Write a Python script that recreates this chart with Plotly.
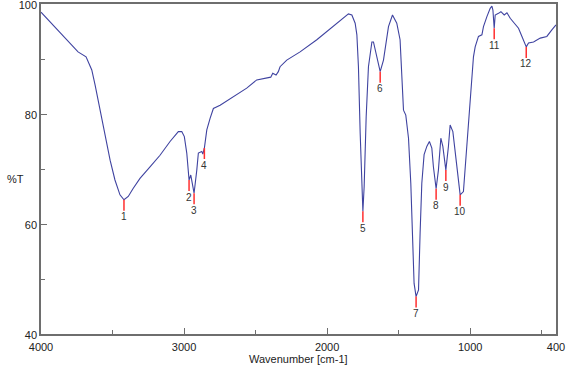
import plotly.graph_objects as go

# Spectrum trace (wavenumber cm-1, %T)
wavenumber = [4000, 3853, 3741, 3685, 3645, 3622, 3587, 3552, 3517, 3483, 3448, 3420, 3390, 3355,
              3308, 3238, 3168, 3098, 3040, 3016, 2998, 2981, 2970, 2965, 2953, 2939, 2930, 2911,
              2900, 2876, 2869, 2858, 2841, 2818, 2795, 2748, 2655, 2562, 2492, 2422, 2394, 2380,
              2357, 2341, 2329, 2282, 2189, 2072, 2002, 1909, 1851, 1827, 1804, 1792, 1781, 1769,
              1757, 1750, 1741, 1727, 1711, 1687, 1676, 1657, 1629, 1606, 1571, 1543, 1513, 1490,
              1478, 1466, 1450, 1431, 1415, 1401, 1392, 1378, 1361, 1350, 1338, 1322, 1303, 1285,
              1268, 1257, 1238, 1222, 1205, 1191, 1170, 1152, 1140, 1121, 1105, 1089, 1070, 1047,
              1030, 1012, 995, 977, 965, 942, 918, 907, 883, 860, 848, 841, 832, 825, 802, 785,
              762, 743, 720, 685, 662, 638, 608, 592, 557, 510, 464, 429, 400]
transmittance = [98.5, 94.4, 91.3, 90.4, 88.0, 85.3, 80.7, 75.9, 71.6, 68.0, 65.3, 64.4, 65.0, 66.5,
                 68.3, 70.4, 72.5, 75.0, 76.8, 76.8, 75.9, 72.9, 69.5, 68.0, 68.9, 66.5, 65.6, 69.8,
                 72.9, 73.2, 72.7, 73.8, 77.1, 79.2, 81.0, 81.6, 83.2, 84.7, 86.2, 86.5, 86.7, 87.4,
                 87.1, 87.7, 88.6, 89.8, 91.3, 93.5, 95.0, 97.1, 98.2, 98.0, 96.5, 94.4, 88.6, 76.6,
                 65.3, 62.3, 66.8, 79.5, 88.6, 93.1, 93.1, 91.0, 87.7, 89.8, 95.9, 98.0, 96.5, 93.5,
                 87.1, 80.7, 79.8, 75.6, 67.4, 58.3, 49.2, 46.8, 48.0, 58.3, 67.4, 72.6, 74.1, 75.0,
                 73.8, 70.4, 66.4, 69.8, 75.6, 74.1, 69.8, 74.1, 78.0, 76.8, 73.5, 69.2, 65.3, 65.9,
                 71.6, 77.7, 83.5, 90.4, 92.2, 94.1, 94.4, 95.9, 97.7, 99.2, 99.6, 98.9, 95.6, 98.0,
                 98.3, 98.6, 98.0, 98.4, 97.4, 96.2, 95.6, 94.1, 92.2, 92.9, 93.1, 93.8, 94.1, 95.3,
                 96.2]

# Picked peaks
peak_labels = ["1", "2", "3", "4", "5", "6", "7", "8", "9", "10", "11", "12"]
peak_wn = [3420, 2965, 2930, 2858, 1750, 1629, 1378, 1238, 1170, 1070, 832, 608]
peak_t = [64.4, 68.0, 65.6, 73.8, 62.3, 87.7, 46.8, 66.4, 69.8, 65.3, 95.6, 92.2]

x_tick_vals = [4000, 3000, 2000, 1000, 400]
x_tick_text = ["4000", "3000", "2000", "1000", "400"]
x_minor_vals = [3500, 2500, 1500, 500]
y_tick_vals = [40, 60, 80, 100]
y_minor_vals = [50, 70, 90]

FONT = "Liberation Sans, Arial, sans-serif"
AXIS_COLOR = "#6e6e6e"

fig = go.Figure()
fig.add_trace(go.Scatter(x=wavenumber, y=transmittance, mode="lines",
                         line=dict(color="#3f43a0", width=1.1), hoverinfo="skip",
                         showlegend=False))

for lab, wx, ty in zip(peak_labels, peak_wn, peak_t):
    fig.add_annotation(x=wx, y=ty, text=lab, showarrow=True, arrowhead=0,
                       arrowcolor="#ff3030", arrowwidth=1.5, ax=0, ay=17,
                       font=dict(family=FONT, size=10, color="#333333"),
                       borderpad=0)

fig.add_annotation(xref="paper", yref="paper", x=-0.05, y=0.47, text="%T",
                   showarrow=False, xanchor="center", yanchor="middle",
                   font=dict(family=FONT, size=11, color="#222222"))
fig.add_annotation(xref="paper", yref="paper", x=0.5, y=-0.052, text="Wavenumber [cm-1]",
                   showarrow=False, xanchor="center", yanchor="top",
                   font=dict(family=FONT, size=11, color="#222222"))

common_axis = dict(autorange=False, automargin=False, ticklabeloverflow="allow",
                   ticks="inside", ticklen=6, tickcolor=AXIS_COLOR, tickwidth=1,
                   showline=True, linecolor=AXIS_COLOR, linewidth=1.5, mirror=True,
                   showgrid=False, zeroline=False,
                   tickfont=dict(family=FONT, size=11, color="#222222"))

fig.update_xaxes(range=[4000, 400], tickmode="array", tickvals=x_tick_vals, ticktext=x_tick_text,
                 minor=dict(tickmode="array", tickvals=x_minor_vals, ticks="inside",
                            ticklen=4, tickcolor=AXIS_COLOR, showgrid=False),
                 ticklabelstandoff=2, **common_axis)
fig.update_yaxes(range=[40, 100], tickmode="array", tickvals=y_tick_vals,
                 minor=dict(tickmode="array", tickvals=y_minor_vals, ticks="inside",
                            ticklen=4, tickcolor=AXIS_COLOR, showgrid=False),
                 ticklabelshift=1, **common_axis)

fig.update_layout(width=567, height=373, margin=dict(l=41, r=11, t=4, b=39),
                  plot_bgcolor="white", paper_bgcolor="white", showlegend=False)

fig.write_html("out.html", config={"displayModeBar": False},
               post_script="document.body.style.margin='0';document.body.style.padding='0';")
